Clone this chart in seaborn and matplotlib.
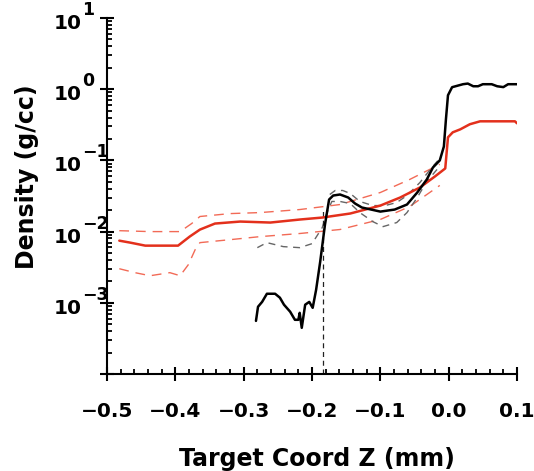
import numpy as np
import pandas as pd
import matplotlib
matplotlib.use("Agg")
import matplotlib.pyplot as plt
import matplotlib.transforms as mtransforms
from matplotlib.ticker import FixedLocator, LogLocator, MultipleLocator, NullFormatter
import seaborn as sns

# ---------------- data ----------------
red_x = [-0.482, -0.466, -0.444, -0.396, -0.379, -0.364, -0.342, -0.305, -0.261, -0.218,
         -0.185, -0.144, -0.100, -0.071, -0.042, -0.020, -0.005, -0.001, 0.006, 0.017,
         0.031, 0.046, 0.080, 0.097, 0.100]
red_y = [0.00746, 0.0070, 0.00635, 0.00635, 0.00851, 0.01067, 0.01297, 0.01384, 0.0134, 0.01477,
         0.01575, 0.01795, 0.0232, 0.0301, 0.0417, 0.0596, 0.0771, 0.211, 0.248, 0.273,
         0.322, 0.354, 0.354, 0.354, 0.332]

red_hi_x = [-0.482, -0.437, -0.393, -0.376, -0.364, -0.320, -0.276, -0.218, -0.159, -0.100,
            -0.057, -0.013]
red_hi_y = [0.0103, 0.0100, 0.0100, 0.0130, 0.0163, 0.0179, 0.0185, 0.0204, 0.0240, 0.0354,
            0.054, 0.088]

red_lo_x = [-0.482, -0.459, -0.437, -0.408, -0.393, -0.381, -0.371, -0.364, -0.320, -0.276,
            -0.218, -0.159, -0.100, -0.057, -0.013]
red_lo_y = [0.00301, 0.00265, 0.0024, 0.00265, 0.0024, 0.00343, 0.00557, 0.0070, 0.0077, 0.0085,
            0.0094, 0.0107, 0.0148, 0.0225, 0.0445]

blk_x = [-0.282, -0.279, -0.273, -0.266, -0.254, -0.247, -0.241, -0.232, -0.225, -0.220,
         -0.218, -0.215, -0.210, -0.204, -0.199, -0.194, -0.188, -0.181, -0.175, -0.169,
         -0.159, -0.147, -0.137, -0.127, -0.100, -0.079, -0.061, -0.046, -0.032, -0.023,
         -0.013, -0.007, -0.004, -0.001, 0.005, 0.021, 0.028, 0.036, 0.043, 0.050,
         0.063, 0.071, 0.080, 0.087, 0.100]
blk_y = [0.000557, 0.00088, 0.00103, 0.00134, 0.00134, 0.00118, 0.00094, 0.00075, 0.000577, 0.000577,
         0.000723, 0.000445, 0.00094, 0.00103, 0.00085, 0.00152, 0.00378, 0.01256, 0.0282, 0.0321,
         0.0332, 0.0301, 0.0248, 0.0218, 0.0191, 0.0204, 0.0240, 0.0354, 0.054, 0.0796,
         0.100, 0.157, 0.378, 0.822, 1.067, 1.175, 1.20, 1.10, 1.10, 1.175,
         1.175, 1.10, 1.07, 1.175, 1.175]

gry_a_x = [-0.280, -0.266, -0.242, -0.218, -0.200, -0.185, -0.178, -0.171, -0.159, -0.144,
           -0.130, -0.111, -0.096, -0.076, -0.061, -0.046, -0.032, -0.017]
gry_a_y = [0.00595, 0.0070, 0.00615, 0.00595, 0.00677, 0.01138, 0.0185, 0.0265, 0.0265, 0.0248,
           0.0185, 0.0138, 0.01175, 0.0134, 0.0185, 0.0301, 0.0506, 0.0746]

gry_b_x = [-0.174, -0.166, -0.155, -0.144, -0.130, -0.111, -0.093, -0.076, -0.061, -0.042,
           -0.027, -0.016]
gry_b_y = [0.0332, 0.0378, 0.0378, 0.0343, 0.0265, 0.0232, 0.0232, 0.0256, 0.0321, 0.049,
           0.0746, 0.099]

vline_x = [-0.184, -0.184]
vline_y = [0.0001, 0.02]

x_ticks = [-0.5, -0.4, -0.3, -0.2, -0.1, 0.0, 0.1]
x_tick_labels = ["\u22120.5", "\u22120.4", "\u22120.3", "\u22120.2", "\u22120.1", "0.0", "0.1"]
y_ticks = [1e-4, 1e-3, 1e-2, 1e-1, 1e0, 1e1]
y_tick_exponents = ["", "\u22123", "\u22122", "\u22121", "0", "1"]

x_label = "Target Coord Z (mm)"
y_label = "Density (g/cc)"

# ---------------- styling ----------------
sns.set_style("ticks")
plt.rcParams["font.family"] = ["DejaVu Sans"]
plt.rcParams["font.weight"] = "bold"
plt.rcParams["text.color"] = "black"
plt.rcParams["axes.labelcolor"] = "black"
plt.rcParams["xtick.color"] = "black"
plt.rcParams["ytick.color"] = "black"

W, H = 534, 471
fig = plt.figure(figsize=(W / 100, H / 100), dpi=100)
ax = fig.add_axes([107 / W, 97 / H, 410 / W, 356 / H])
ax.set_yscale("log")

red = "#e3301c"
red_light = "#f26a56"

common = dict(ax=ax, sort=False, estimator=None, errorbar=None)
sns.lineplot(x=red_hi_x, y=red_hi_y, color=red_light, linewidth=1.0,
             linestyle=(0, (7, 5)), **common)
sns.lineplot(x=red_lo_x, y=red_lo_y, color=red_light, linewidth=1.0,
             linestyle=(0, (7, 5)), **common)
sns.lineplot(x=gry_a_x, y=gry_a_y, color="#666666", linewidth=1.0,
             linestyle=(0, (5, 4)), **common)
sns.lineplot(x=gry_b_x, y=gry_b_y, color="#666666", linewidth=1.0,
             linestyle=(0, (5, 4)), **common)
sns.lineplot(x=vline_x, y=vline_y, color="#222222", linewidth=0.9,
             linestyle=(0, (4, 3)), **common)
sns.lineplot(x=red_x, y=red_y, color=red, linewidth=1.8, **common)
sns.lineplot(x=blk_x, y=blk_y, color="black", linewidth=1.8, **common)

ax.set_xlim(-0.5, 0.1)
ax.set_ylim(1e-4, 10)

ax.xaxis.set_major_locator(FixedLocator(x_ticks))
ax.set_xticklabels(x_tick_labels, fontsize=14.5, fontweight="bold", color="black")
ax.xaxis.set_minor_locator(MultipleLocator(0.02))
ax.yaxis.set_major_locator(FixedLocator(y_ticks))
ax.yaxis.set_minor_locator(LogLocator(base=10, subs=range(2, 10)))
ax.yaxis.set_minor_formatter(NullFormatter())
ax.set_yticklabels([""] * len(y_ticks))

ax.tick_params(which="major", direction="inout", length=10, width=1.5, color="black")
ax.tick_params(axis="x", which="major", pad=15)
ax.tick_params(which="minor", direction="in", length=3.5, width=1.3, color="black")

for s in ["top", "right"]:
    ax.spines[s].set_visible(False)
for s in ["left", "bottom"]:
    ax.spines[s].set_linewidth(1.5)
    ax.spines[s].set_color("black")

# y tick labels: "10" with superscript exponent
base_tr = ax.get_yaxis_transform()
for val, ex in zip(y_ticks, y_tick_exponents):
    if not ex:
        continue
    t1 = mtransforms.offset_copy(base_tr, fig=fig, x=-25, y=-11, units="dots")
    ax.text(0, val, "10", transform=t1, ha="right", va="baseline",
            fontsize=14.5, fontweight="bold", color="black", clip_on=False)
    t2 = mtransforms.offset_copy(base_tr, fig=fig, x=-25, y=3, units="dots")
    ax.text(0, val, ex, transform=t2, ha="left", va="baseline",
            fontsize=12.5, fontweight="bold", color="black", clip_on=False)

ax.set_xlabel(x_label, fontsize=17, fontweight="bold", color="black")
ax.set_ylabel(y_label, fontsize=17, fontweight="bold", color="black")
ax.xaxis.set_label_coords(0.512, -0.205)
ax.yaxis.set_label_coords(-0.165, 0.555)

fig.savefig("out.png", dpi=100)
